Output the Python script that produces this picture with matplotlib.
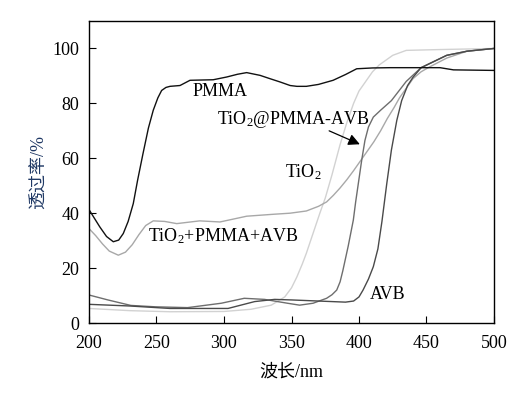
import matplotlib
matplotlib.use("Agg")
import matplotlib.pyplot as plt

plt.rcParams['font.family'] = ['Liberation Serif', 'Noto Sans CJK SC']
plt.rcParams['mathtext.fontset'] = 'custom'
plt.rcParams['mathtext.rm'] = 'Liberation Serif'
plt.rcParams['mathtext.it'] = 'Liberation Serif:italic'

# ---- data (wavelength nm, transmittance %) ----
pmma_x = [200, 208, 213, 218, 222, 225.4, 229, 232.8, 236, 240, 244, 247.6, 251, 253.8, 257, 260, 267.4,
          274.8, 283, 292, 302, 310, 316.8, 326.7, 334, 341.5, 349, 354, 361, 370, 380.8, 390, 398.3,
          410, 423, 440, 460, 470, 485, 500]
pmma_y = [41.3, 35, 31.5, 29.6, 30.2, 32.6, 37, 43.5, 52, 61.7, 71, 77.5, 82, 84.7, 85.8, 86.2, 86.5,
          88.4, 88.5, 88.6, 89.6, 90.6, 91.2, 90.2, 89, 87.8, 86.5, 86.2, 86.2, 86.9, 88.4, 90.5, 92.6,
          92.9, 93, 93, 93, 92.2, 92.1, 92]

tio2_x = [200, 230, 260, 300, 320, 335, 345, 350, 354, 358, 361, 366, 371, 375, 380, 386, 391, 396,
          400, 405, 410, 415, 425, 435, 460, 500]
tio2_y = [5.3, 4.5, 4.1, 4.2, 5.0, 6.5, 9.5, 12.8, 16.8, 21.5, 25.4, 32.7, 40, 45.5, 54, 65, 73, 80,
          84.5, 88, 91.5, 94, 97.5, 99.3, 99.6, 100]

mix_x = [200, 205, 210, 215, 221.7, 227, 232, 237, 242, 247.6, 256, 265, 282, 297, 316.8, 336.5, 349, 361,
         370, 376, 381, 386, 391, 396, 401, 406, 411, 416, 421, 426, 430, 435, 440, 446, 452, 465, 480, 500]
mix_y = [34.4, 31.8, 28.8, 26.2, 24.7, 25.8, 28.5, 32.2, 35.5, 37.2, 37.0, 36.2, 37.2, 36.8, 38.9, 39.6, 40, 40.8,
         42.5, 44.1, 46.5, 49.2, 52.2, 55.5, 59, 62.5, 66, 70, 74.5, 78.5, 82, 85.5, 89, 91.5, 93.2, 96.5, 99, 100]

core_x = [200, 214, 231, 249, 273, 298, 315, 330, 347, 356, 366, 376, 380, 383.5, 386, 388, 390, 392,
          394, 395.8, 397.5, 399.5, 402, 404.4, 407, 410.6, 416, 424, 435, 446, 465, 480, 500]
core_y = [10.2, 8.4, 6.4, 5.9, 5.6, 7.2, 9, 8.6, 7.2, 6.5, 7.2, 9, 10.3, 12, 15, 19, 23.5, 28,
          33, 37.5, 44, 50.8, 59.3, 66.5, 71.4, 75, 77.5, 81, 88, 93, 97.5, 99, 100]

avb_x = [200, 230, 260, 303, 322.7, 337.5, 350, 370, 390, 396, 400, 403, 407, 410.6, 414, 417, 420.5,
         424, 428, 431.6, 436, 440, 446, 465, 480, 500]
avb_y = [6.8, 6.2, 5.3, 5.3, 7.8, 8.6, 8.4, 8.0, 7.6, 8.0, 9.5, 12, 16, 20.5, 27, 37, 50.5,
         63, 73.8, 81, 86.5, 89.5, 93, 97.5, 99, 100]

x_ticks = [200, 250, 300, 350, 400, 450, 500]
y_ticks = [0, 20, 40, 60, 80, 100]

fig = plt.figure(figsize=(5.3, 3.94), dpi=100)
ax = fig.add_axes([89/530, 1 - 323/394, (494-89)/530, (323-21)/394])

lw = 1.0
ax.plot(tio2_x, tio2_y, color='#d2d2d2', lw=lw)
ax.plot(mix_x, mix_y, color='#a8a8a8', lw=lw)
ax.plot(core_x, core_y, color='#6e6e6e', lw=lw)
ax.plot(avb_x, avb_y, color='#4a4a4a', lw=lw)
ax.plot(pmma_x, pmma_y, color='#111111', lw=lw)

ax.set_xlim(200, 500)
ax.set_ylim(0, 110)
ax.set_xticks(x_ticks)
ax.set_yticks(y_ticks)
ax.tick_params(axis='x', pad=9)
ax.tick_params(axis='y', pad=7)
ax.tick_params(direction='in', length=5, width=0.8, labelsize=13, top=False, right=False)
for s in ax.spines.values():
    s.set_linewidth(1.0)

fs = 13
ax.text(276.8, 84.4, 'PMMA', fontsize=fs, va='center', ha='left')
ax.text(294.6, 74.2, 'TiO$_2$@PMMA-AVB', fontsize=fs, va='center', ha='left')
ax.text(345.5, 55, 'TiO$_2$', fontsize=fs, va='center', ha='left')
ax.text(244, 31.6, 'TiO$_2$+PMMA+AVB', fontsize=fs, va='center', ha='left')
ax.text(408, 10.2, 'AVB', fontsize=fs, va='center', ha='left')
ax.annotate('', xy=(402.5, 64.7), xytext=(376, 70.4),
            arrowprops=dict(arrowstyle='-|>', color='black', lw=0.9, mutation_scale=17))

ax.set_xlabel('波长/nm', fontsize=13, labelpad=8)
ax.set_ylabel('透过率/%', fontsize=13, color='#1f3864', labelpad=3)

fig.savefig('out.png', dpi=100)
